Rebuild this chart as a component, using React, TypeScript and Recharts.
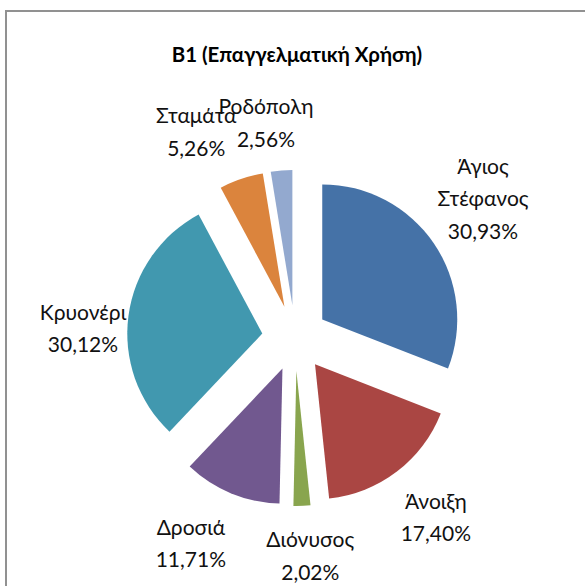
import React from "react";
import { PieChart, Pie, Cell, Sector } from "recharts";

const NAMES = ["Άγιος Στέφανος", "Άνοιξη", "Διόνυσος", "Δροσιά", "Κρυονέρι", "Σταμάτα", "Ροδόπολη"];
const SHARES = [30.93, 17.4, 2.02, 11.71, 30.12, 5.26, 2.56];
const TITLE = "B1 (Επαγγελματική Χρήση)";

const COLORS = ["#4572A7", "#AA4643", "#89A54E", "#71588F", "#4198AF", "#DB843D", "#93A9CF"];
// small manual nudges so labels sit where Excel put them
const LABEL_NUDGE = [
  [3, -13],
  [5, 1.5],
  [6, -6],
  [-19, -1.5],
  [10, 20],
  [-27, 6],
  [-11, 8.5],
];

const EXPLODE = 33;
const LABEL_R = 224;
const LINE = 32.5;
const CAP = 15;
const FONT = "Lato, 'Open Sans', sans-serif";

const data = NAMES.map((name, i) => ({ name, value: SHARES[i] }));

const fmt = (v: number) => v.toFixed(2).replace(".", ",") + "%";

function renderSlice(props: any) {
  const { cx, cy, midAngle, outerRadius, startAngle, endAngle, index } = props;
  const rad = (-midAngle * Math.PI) / 180;
  const ux = Math.cos(rad);
  const uy = Math.sin(rad);
  const sx = cx + ux * EXPLODE;
  const sy = cy + uy * EXPLODE;
  const [nx, ny] = LABEL_NUDGE[index];
  const lx = cx + ux * LABEL_R + nx;
  const ly = cy + uy * LABEL_R + ny;
  const lines = [...NAMES[index].split(" "), fmt(SHARES[index])];
  const first = ly - ((lines.length - 1) * LINE - CAP) / 2;
  return (
    <g key={`slice-${index}`}>
      <Sector
        cx={sx}
        cy={sy}
        innerRadius={0}
        outerRadius={outerRadius}
        startAngle={startAngle}
        endAngle={endAngle}
        fill={COLORS[index % COLORS.length]}
        stroke="none"
      />
      <text textAnchor="middle" fontFamily={FONT} fontSize={21} fill="#111">
        {lines.map((t, i) => (
          <tspan key={i} x={lx} y={first + i * LINE}>
            {t}
          </tspan>
        ))}
      </text>
    </g>
  );
}

export default function App() {
  return (
    <div style={{ position: "absolute", left: 0, top: 0, width: 585, height: 586, overflow: "hidden", background: "#fff" }}>
      <div
        style={{
          position: "absolute",
          left: 5,
          top: 10,
          width: 620,
          height: 620,
          border: "2px solid #919191",
          boxSizing: "border-box",
        }}
      />
      <svg width={585} height={586} style={{ position: "absolute", left: 0, top: 0 }}>
        <text x={297} y={62} textAnchor="middle" fontFamily={FONT} fontWeight="bold" fontSize={20.4} fill="#000">
          {TITLE}
        </text>
      </svg>
      <div style={{ position: "absolute", left: 0, top: 0 }}>
        <PieChart width={585} height={586} margin={{ top: 0, right: 0, bottom: 0, left: 0 }}>
          <Pie
            data={data}
            dataKey="value"
            nameKey="name"
            cx={295}
            cy={338}
            innerRadius={0}
            outerRadius={135}
            startAngle={90}
            endAngle={-270}
            stroke="none"
            fill="none"
            label={renderSlice}
            labelLine={false}
            isAnimationActive={false}
          >
            {data.map((_, i) => (
              <Cell key={i} fill="none" stroke="none" />
            ))}
          </Pie>
        </PieChart>
      </div>
    </div>
  );
}
